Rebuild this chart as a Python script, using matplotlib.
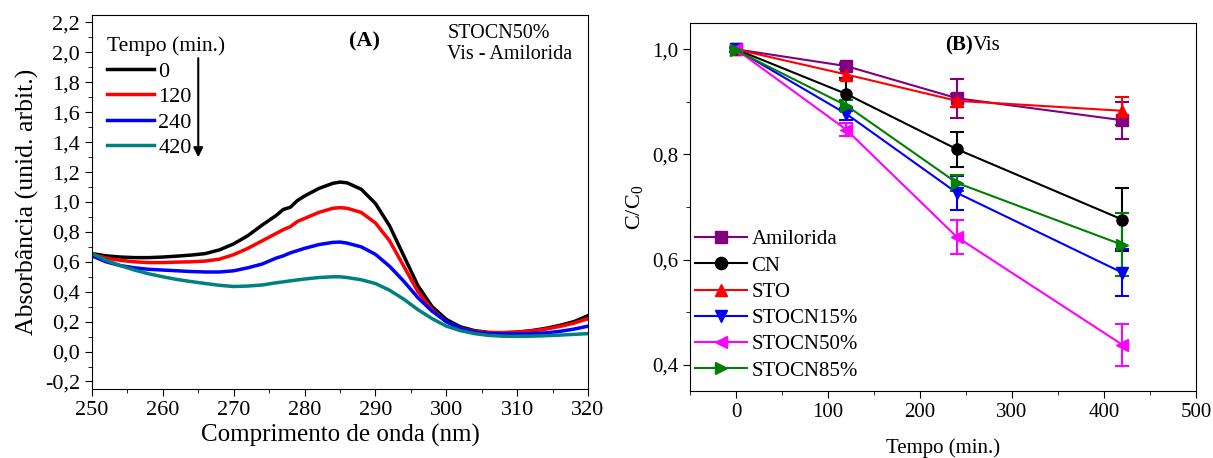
import matplotlib.pyplot as plt
from matplotlib.ticker import MultipleLocator, FuncFormatter

plt.rcParams['font.family'] = ['Liberation Serif', 'DejaVu Serif']
plt.rcParams['mathtext.fontset'] = 'custom'
plt.rcParams['mathtext.rm'] = 'Liberation Serif'

# (A) espectros de absorcao
wl = [250, 252, 254, 256, 258, 260, 262, 264, 266, 268, 270, 272, 274, 276, 277, 278,
      279, 280, 282, 284, 285, 286, 288, 290, 292, 294, 296, 298, 300, 302, 304, 306,
      308, 310, 312, 314, 316, 318, 320]
abs_0 = [0.655, 0.640, 0.632, 0.628, 0.628, 0.632, 0.638, 0.645, 0.655, 0.680, 0.720,
         0.775, 0.845, 0.910, 0.950, 0.965, 1.010, 1.040, 1.090, 1.125, 1.133, 1.128,
         1.085, 0.990, 0.840, 0.640, 0.440, 0.300, 0.215, 0.165, 0.140, 0.128, 0.125,
         0.130, 0.140, 0.155, 0.175, 0.200, 0.240]
abs_120 = [0.650, 0.625, 0.610, 0.600, 0.595, 0.595, 0.598, 0.600, 0.605, 0.618, 0.648,
           0.690, 0.740, 0.790, 0.815, 0.835, 0.870, 0.890, 0.930, 0.958, 0.962, 0.958,
           0.930, 0.860, 0.740, 0.570, 0.400, 0.280, 0.200, 0.155, 0.135, 0.127, 0.127,
           0.130, 0.138, 0.150, 0.168, 0.190, 0.220]
abs_240 = [0.640, 0.600, 0.575, 0.560, 0.550, 0.545, 0.540, 0.535, 0.532, 0.532, 0.540,
           0.560, 0.585, 0.625, 0.640, 0.660, 0.675, 0.690, 0.715, 0.730, 0.732, 0.725,
           0.700, 0.650, 0.570, 0.470, 0.360, 0.270, 0.200, 0.155, 0.130, 0.120, 0.118,
           0.118, 0.120, 0.125, 0.135, 0.150, 0.170]
abs_420 = [0.655, 0.610, 0.575, 0.545, 0.520, 0.500, 0.482, 0.468, 0.455, 0.443, 0.435,
           0.438, 0.445, 0.460, 0.466, 0.473, 0.479, 0.485, 0.495, 0.500, 0.500, 0.495,
           0.480, 0.455, 0.410, 0.350, 0.280, 0.220, 0.170, 0.140, 0.120, 0.108, 0.103,
           0.102, 0.103, 0.106, 0.110, 0.115, 0.120]
spec_labels = ['0', '120', '240', '420']
spec_colors = ['black', '#ff0000', '#0000ff', '#008080']

# (B) cinetica C/C0
tempo = [0, 120, 240, 420]
amilorida = [1.0, 0.968, 0.907, 0.865]
amilorida_err = [0.004, 0.005, 0.037, 0.035]
cn = [1.0, 0.915, 0.810, 0.676]
cn_err = [0.004, 0.030, 0.033, 0.060]
sto = [1.0, 0.952, 0.902, 0.883]
sto_err = [0.004, 0.010, 0.012, 0.027]
stocn15 = [1.0, 0.877, 0.727, 0.575]
stocn15_err = [0.004, 0.012, 0.032, 0.045]
stocn50 = [1.0, 0.847, 0.643, 0.438]
stocn50_err = [0.004, 0.012, 0.032, 0.040]
stocn85 = [0.998, 0.893, 0.746, 0.628]
stocn85_err = [0.004, 0.010, 0.015, 0.060]
series_names = ['Amilorida', 'CN', 'STO', 'STOCN15%', 'STOCN50%', 'STOCN85%']
series_colors = ['#800080', 'black', '#ff0000', '#0000ff', '#ff00ff', '#008000']
series_markers = ['s', 'o', '^', 'v', '<', '>']

comma = FuncFormatter(lambda v, p: ('%.1f' % v).replace('.', ','))

fig = plt.figure(figsize=(12.13, 4.58), dpi=100)

# ---- painel A
ax1 = fig.add_axes([0.0758, 0.1507, 0.409, 0.8166])
for y, lab, c in zip([abs_0, abs_120, abs_240, abs_420], spec_labels, spec_colors):
    ax1.plot(wl, y, color=c, lw=2.5, label=lab)
ax1.set_xlim(250, 320)
ax1.set_ylim(-0.25, 2.25)
ax1.xaxis.set_major_locator(MultipleLocator(10))
ax1.xaxis.set_minor_locator(MultipleLocator(5))
ax1.yaxis.set_major_locator(MultipleLocator(0.2))
ax1.yaxis.set_minor_locator(MultipleLocator(0.1))
ax1.yaxis.set_major_formatter(comma)
ax1.tick_params(which='both', direction='out', top=False, right=False, labelsize=16)
ax1.tick_params(which='major', length=5)
ax1.tick_params(which='minor', length=3)
ax1.set_xlabel('Comprimento de onda (nm)', fontsize=18, labelpad=3)
ax1.set_ylabel('Absorbância (unid. arbit.)', fontsize=18.5, labelpad=4)
leg1 = ax1.legend(title='Tempo (min.)', loc='upper left', frameon=False, fontsize=16,
                  title_fontsize=15.5, handlelength=2.1, handletextpad=0.2,
                  labelspacing=0.22, bbox_to_anchor=(-0.005, 0.99), borderpad=0.3)
leg1._legend_box.align = 'left'
ax1.annotate('', xy=(265, 1.28), xytext=(265, 1.98),
             arrowprops=dict(arrowstyle='-|>', color='black', lw=1.5, mutation_scale=14))
ax1.text(0.55, 0.928, '(A)', transform=ax1.transAxes, fontsize=16, fontweight='bold',
         ha='center', va='center')
ax1.text(0.716, 0.975, 'STOCN50%\nVis - Amilorida', transform=ax1.transAxes, fontsize=14.5,
         ha='left', va='top', linespacing=1.15)

# ---- painel B
ax2 = fig.add_axes([0.5688, 0.1463, 0.4172, 0.8035])
data = [(amilorida, amilorida_err), (cn, cn_err), (sto, sto_err),
        (stocn15, stocn15_err), (stocn50, stocn50_err), (stocn85, stocn85_err)]
handles = []
for (y, e), name, c, m in zip(data, series_names, series_colors, series_markers):
    cont = ax2.errorbar(tempo, y, yerr=e, color=c, marker=m, ms=8, lw=1.5, capsize=5,
                        capthick=1.5, elinewidth=1.5, label=name)
    handles.append(cont[0])
ax2.set_xlim(-50, 500)
ax2.set_ylim(0.35, 1.05)
ax2.xaxis.set_major_locator(MultipleLocator(100))
ax2.xaxis.set_minor_locator(MultipleLocator(50))
ax2.yaxis.set_major_locator(MultipleLocator(0.2))
ax2.yaxis.set_minor_locator(MultipleLocator(0.1))
ax2.yaxis.set_major_formatter(comma)
ax2.tick_params(which='both', direction='out', top=False, right=False, labelsize=15)
ax2.tick_params(which='major', length=5)
ax2.tick_params(which='minor', length=3)
ax2.set_xlabel('Tempo (min.)', fontsize=15, labelpad=12)
ax2.set_ylabel(r'C/C$_\mathregular{0}$', fontsize=16, labelpad=4)
ax2.legend(handles, series_names, loc='lower left', frameon=False, fontsize=15,
           handlelength=2.5, handletextpad=0.2, labelspacing=0.32, borderpad=0.3,
           bbox_to_anchor=(-0.01, 0.0), borderaxespad=0.2, markerscale=1.1)
ax2.text(0.559, 0.94, '(B)', transform=ax2.transAxes, fontsize=15, fontweight='bold',
         ha='right', va='center')
ax2.text(0.559, 0.94, 'Vis', transform=ax2.transAxes, fontsize=15, ha='left', va='center')

fig.savefig('out.png', dpi=100)
